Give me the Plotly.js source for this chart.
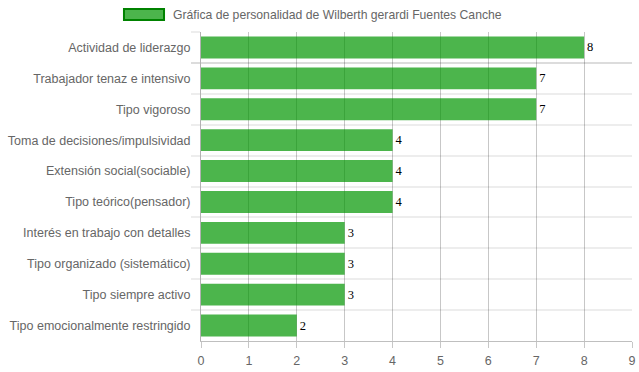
<!DOCTYPE html>
<html>
<head>
<meta charset="utf-8">
<script src="https://cdn.plot.ly/plotly-3.0.1.min.js"></script>
<style>html,body{margin:0;padding:0;background:#fff;}#chart{width:639px;height:372px;}</style>
</head>
<body>
<div id="chart"></div>
<script>
const seriesName = "Gráfica de personalidad de Wilberth gerardi Fuentes Canche";
const categories = [
  "Actividad de liderazgo",
  "Trabajador tenaz e intensivo",
  "Tipo vigoroso",
  "Toma de decisiones/impulsividad",
  "Extensión social(sociable)",
  "Tipo teórico(pensador)",
  "Interés en trabajo con detalles",
  "Tipo organizado (sistemático)",
  "Tipo siempre activo",
  "Tipo emocionalmente restringido"
];
const values = [8, 7, 7, 4, 4, 4, 3, 3, 3, 2];
const xTicks = [0, 1, 2, 3, 4, 5, 6, 7, 8, 9];

const trace = {
  type: "bar",
  orientation: "h",
  name: seriesName,
  y: categories,
  x: values,
  text: values.map(String),
  textposition: "outside",
  cliponaxis: false,
  textfont: {family: "Liberation Serif, serif", size: 12.5, color: "#000"},
  marker: {color: "rgba(0,150,0,0.7)", line: {width: 0}},
  hoverinfo: "x+y",
  showlegend: false
};

const layout = {
  width: 639, height: 372,
  margin: {l: 201, r: 7, t: 32, b: 31},
  paper_bgcolor: "#fff", plot_bgcolor: "#fff",
  bargap: 0.29,
  font: {family: "Liberation Sans, Arial, sans-serif", size: 12.5, color: "#666"},
  xaxis: {
    range: [0, 9], tickvals: xTicks, ticktext: xTicks.map(String),
    showgrid: true, gridcolor: "rgba(0,0,0,0.22)", gridwidth: 1,
    zeroline: false, showline: true, linecolor: "rgba(0,0,0,0.25)",
    ticks: "outside", ticklen: 6, tickcolor: "rgba(0,0,0,0.22)",
    ticklabelstandoff: 2,
    tickfont: {size: 12.5, color: "#666"}, fixedrange: true
  },
  yaxis: {
    type: "category", autorange: "reversed",
    tickson: "boundaries", showgrid: true, gridcolor: "rgba(0,0,0,0.07)", gridwidth: 2,
    showline: true, linecolor: "rgba(0,0,0,0.3)",
    ticks: "outside", ticklen: 9, tickcolor: "rgba(0,0,0,0.07)", tickwidth: 2,
    ticklabelstandoff: 7,
    tickfont: {size: 12.5, color: "#666"}, zeroline: false, fixedrange: true
  },
  shapes: [{
    type: "rect", xref: "paper", yref: "paper",
    x0: -0.1787, x1: -0.0858, y0: 1.0388, y1: 1.0744,
    fillcolor: "rgba(0,150,0,0.7)", line: {color: "rgb(0,130,0)", width: 2}
  }],
  annotations: [{
    xref: "paper", yref: "paper", x: -0.0696, y: 1.0566,
    xanchor: "left", yanchor: "middle", showarrow: false,
    text: seriesName, font: {size: 12.2, color: "#666"}
  }]
};

Plotly.newPlot("chart", [trace], layout, {displayModeBar: false, staticPlot: true});
</script>
</body>
</html>
